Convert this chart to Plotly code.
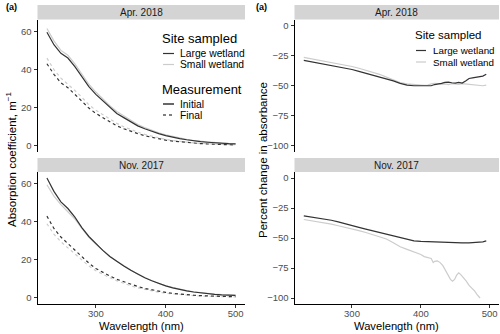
import plotly.graph_objects as go

W, H = 500, 334

DARK = "#333333"
LIGHT = "#CCCCCC"
STRIP = "#D4D4D4"
TICK_TXT = "#4D4D4D"
FONT = "Liberation Sans"

# ---- absorption coefficient (left panels) ----
wl_abs = [230, 240, 250, 260, 270, 280, 290, 300, 310, 320, 330, 340, 350, 360,
          370, 380, 390, 400, 410, 420, 430, 440, 450, 460, 470, 480, 490, 500]

apr_large_init = [59.5, 53, 48.5, 46, 41.5, 36, 31, 27, 23.5, 20, 17, 14.8, 12.5, 10.5,
                  9, 7.6, 6.4, 5.4, 4.5, 3.8, 3.2, 2.6, 2.2, 1.9, 1.6, 1.4, 1.2, 1.1]
apr_small_init = [61.5, 55, 50, 47.5, 43, 37.5, 32.3, 28.2, 24.5, 21, 18, 15.6, 13.2, 11.2,
                  9.6, 8.1, 6.9, 5.8, 4.9, 4.1, 3.4, 2.8, 2.4, 2.0, 1.7, 1.5, 1.3, 1.2]
apr_large_final = [43, 37.5, 33, 30.5, 27, 23.5, 19.8, 17, 14.7, 12.5, 10.5, 9, 7.6, 6.4,
                   5.3, 4.4, 3.6, 3.0, 2.5, 2.1, 1.7, 1.4, 1.2, 1.0, 0.85, 0.7, 0.6, 0.5]
apr_small_final = [46, 40, 35.5, 32.5, 29, 25.5, 21.5, 18.7, 16.3, 14, 11.8, 10, 8.5, 7.2,
                   6.0, 5.0, 4.1, 3.4, 2.8, 2.3, 1.9, 1.6, 1.3, 1.1, 0.95, 0.8, 0.7, 0.6]

nov_large_init = [63, 56, 50.5, 47, 42.5, 37, 32.3, 28.5, 25, 21.8, 19.2, 16.8, 14.5, 12.4,
                  10.6, 9.0, 7.5, 6.3, 5.3, 4.4, 3.7, 3.1, 2.6, 2.2, 1.9, 1.6, 1.4, 1.3]
nov_small_init = [59.5, 53.5, 49, 45.5, 41.5, 36.5, 32, 28.3, 24.9, 21.9, 19.3, 16.9, 14.6, 12.5,
                  10.7, 9.1, 7.6, 6.4, 5.4, 4.5, 3.8, 3.2, 2.7, 2.3, 2.0, 1.7, 1.5, 1.4]
nov_large_final = [43, 36.5, 32, 28.5, 25, 21.5, 18.3, 15.5, 13.3, 11.5, 9.8, 8.4, 7.2, 6.0,
                   5.0, 4.2, 3.5, 2.9, 2.4, 2.0, 1.7, 1.4, 1.2, 1.0, 0.9, 0.8, 0.7, 0.6]
nov_small_final = [39, 33.5, 29.5, 26.2, 23, 19.8, 16.8, 14.3, 12.3, 10.6, 9.0, 7.6, 6.4, 5.3,
                   4.4, 3.6, 3.0, 2.5, 2.1, 1.7, 1.4, 1.2, 1.0, 0.85, 0.75, 0.65, 0.55, 0.5]

# ---- percent change in absorbance (right panels) ----
wl_pct_apr = [230, 240, 250, 260, 270, 280, 290, 300, 310, 320, 330, 340, 350, 360, 370, 380, 390,
              400, 405, 410, 415, 420, 425, 430, 435, 440, 445, 450, 455, 460, 465, 470, 475,
              480, 485, 490, 495]
pct_apr_large = [-29, -30, -31, -32, -33, -34, -35, -36.5, -38, -39.5, -41, -42.5, -44, -46, -48,
                 -49.5, -50,
                 -50, -50.2, -50.3, -50, -49, -48.8, -48, -47.2, -47, -47.5, -47.8, -47.2, -47.8,
                 -46, -44, -43.5, -43, -42.5, -42, -40.5]
pct_apr_small = [-26.5, -27.5, -28.5, -29.5, -30.5, -31.5, -32.5, -34, -35.5, -37, -38.5, -40.5,
                 -42.8, -45, -47.3, -48.5, -49.2,
                 -49.4, -49.6, -49.5, -48.5, -48, -48.3, -48.8, -48.5, -49, -48.2, -48.5, -48.8,
                 -48.3, -48.6, -49.2, -49.5, -49.8, -49.5, -50, -49.5]

wl_pct_nov_large = [230, 240, 250, 260, 270, 280, 290, 300, 310, 320, 330, 340, 350, 360, 370,
                    380, 390, 400, 410, 420, 430, 440, 450, 460, 470, 480, 490, 495]
pct_nov_large = [-31.5, -32.3, -33.2, -34, -35.2, -36.6, -38.3, -39.8, -41.2, -42.6, -44, -45.4,
                 -46.8, -48.5, -50.2, -51.6, -52.4, -52.8, -53.1, -53.3, -53.5, -53.7, -53.9,
                 -54.1, -54.1, -53.8, -53.2, -52.4]
wl_pct_nov_small = [230, 240, 250, 260, 270, 280, 290, 300, 310, 320, 330, 340, 350, 360, 370,
                    380, 390, 400, 405, 410, 415, 418, 420, 424, 428, 432, 436, 440, 443, 446,
                    449, 452, 455, 458, 462, 466, 470, 474, 478, 482, 486]
pct_nov_small = [-34.6, -35.5, -36.4, -37.4, -38.5, -39.8, -41, -42.4, -43.9, -45.4, -47, -48.8,
                 -50.8, -54, -57.3, -59.5, -61.4, -63.8, -65.5, -66.5, -67, -70.5, -69.5, -69,
                 -70.5, -73, -77.5, -81, -84.5, -86, -84.5, -81, -79, -80.5, -83, -86, -89.5,
                 -91.5, -94, -97.5, -100]

ABS_TICKS = [0, 20, 40, 60]
PCT_TICKS = [0, -25, -50, -75, -100]
WL_TICKS = [300, 400, 500]


def px_x(p):
    return p / W


def px_y(p):
    return 1 - p / H


# panel boxes in pixels: (x0, x1) and (y_top, y_bottom)
LEFT_X = (37.5, 245)
RIGHT_X = (294.5, 499)
TOP_Y = (19.5, 152)
BOT_Y = (172, 304)

fig = go.Figure()


def line(x, y, color, dash, xa, ya):
    fig.add_trace(go.Scatter(
        x=x, y=y, mode="lines", xaxis=xa, yaxis=ya,
        line=dict(color=color, width=1.2, dash=dash),
        showlegend=False, hoverinfo="skip",
    ))


# left panels: Apr (top) and Nov (bottom)
line(wl_abs, apr_small_init, LIGHT, "solid", "x", "y")
line(wl_abs, apr_small_final, LIGHT, "dot", "x", "y")
line(wl_abs, apr_large_init, DARK, "solid", "x", "y")
line(wl_abs, apr_large_final, DARK, "dot", "x", "y")
line(wl_abs, nov_small_init, LIGHT, "solid", "x3", "y3")
line(wl_abs, nov_small_final, LIGHT, "dot", "x3", "y3")
line(wl_abs, nov_large_init, DARK, "solid", "x3", "y3")
line(wl_abs, nov_large_final, DARK, "dot", "x3", "y3")

# right panels
line(wl_pct_apr, pct_apr_small, LIGHT, "solid", "x2", "y2")
line(wl_pct_apr, pct_apr_large, DARK, "solid", "x2", "y2")
line(wl_pct_nov_small, pct_nov_small, LIGHT, "solid", "x4", "y4")
line(wl_pct_nov_large, pct_nov_large, DARK, "solid", "x4", "y4")

x_common = dict(range=[216.5, 513.5], tickvals=WL_TICKS, showgrid=False, zeroline=False,
                tickfont=dict(size=9.5, color=TICK_TXT))
y_common = dict(showgrid=False, zeroline=False, showline=True, linecolor="black", linewidth=1,
                ticks="outside", ticklen=3, tickcolor=DARK,
                tickfont=dict(size=9.5, color=TICK_TXT))
x_top = dict(x_common, showline=False, showticklabels=False, ticks="")
x_bot = dict(x_common, showline=True, linecolor="black", linewidth=1,
             ticks="outside", ticklen=3, tickcolor=DARK, ticklabelstandoff=-2)

abs_y = dict(y_common, range=[-3.2, 66.2], tickvals=ABS_TICKS)
pct_y = dict(y_common, range=[-105, 5], tickvals=PCT_TICKS)

fig.update_layout(
    width=W, height=H,
    margin=dict(l=0, r=0, t=0, b=0),
    paper_bgcolor="white", plot_bgcolor="white",
    font=dict(family=FONT, color="black"),
    showlegend=False,
    xaxis=dict(x_top, domain=[px_x(LEFT_X[0]), px_x(LEFT_X[1])], anchor="y"),
    yaxis=dict(abs_y, domain=[px_y(TOP_Y[1]), px_y(TOP_Y[0])], anchor="x"),
    xaxis2=dict(x_top, domain=[px_x(RIGHT_X[0]), px_x(RIGHT_X[1])], anchor="y2"),
    yaxis2=dict(pct_y, domain=[px_y(TOP_Y[1]), px_y(TOP_Y[0])], anchor="x2"),
    xaxis3=dict(x_bot, domain=[px_x(LEFT_X[0]), px_x(LEFT_X[1])], anchor="y3"),
    yaxis3=dict(abs_y, domain=[px_y(BOT_Y[1]), px_y(BOT_Y[0])], anchor="x3"),
    xaxis4=dict(x_bot, domain=[px_x(RIGHT_X[0]), px_x(RIGHT_X[1])], anchor="y4"),
    yaxis4=dict(pct_y, domain=[px_y(BOT_Y[1]), px_y(BOT_Y[0])], anchor="x4"),
)

shapes = []
annotations = []


def strip(x0, x1, y0, y1, label):
    shapes.append(dict(type="rect", xref="paper", yref="paper",
                       x0=px_x(x0), x1=px_x(x1), y0=px_y(y1), y1=px_y(y0),
                       fillcolor=STRIP, line_width=0, layer="below"))
    annotations.append(dict(x=px_x((x0 + x1) / 2), y=px_y((y0 + y1) / 2),
                            xref="paper", yref="paper", text=label, showarrow=False,
                            font=dict(size=10, color="#1A1A1A"),
                            xanchor="center", yanchor="middle"))


strip(LEFT_X[0], LEFT_X[1], 5, TOP_Y[0], "Apr. 2018")
strip(RIGHT_X[0], RIGHT_X[1], 5, TOP_Y[0], "Apr. 2018")
strip(LEFT_X[0], LEFT_X[1], 158, BOT_Y[0], "Nov. 2017")
strip(RIGHT_X[0], RIGHT_X[1], 158, BOT_Y[0], "Nov. 2017")


def text(xp, yp, s, size, xanchor="left", angle=0, color="black"):
    annotations.append(dict(x=px_x(xp), y=px_y(yp), xref="paper", yref="paper", text=s,
                            showarrow=False, textangle=angle, xanchor=xanchor,
                            yanchor="middle", borderpad=0, font=dict(size=size, color=color)))


def key(x0, x1, yp, color, dash="solid"):
    shapes.append(dict(type="line", xref="paper", yref="paper",
                       x0=px_x(x0), x1=px_x(x1), y0=px_y(yp), y1=px_y(yp),
                       line=dict(color=color, width=1.2, dash=dash)))


# panel tags
text(5, 7, "<b>(a)</b>", 9)
text(255, 7, "<b>(a)</b>", 9)

# axis titles
text(11, 160, "Absorption coefficient, m<sup>−1</sup>", 11.5, "center", -90)
text(263, 160, "Percent change in absorbance", 11.5, "center", -90)
text((LEFT_X[0] + LEFT_X[1]) / 2, 325.5, "Wavelength (nm)", 11.2, "center")
text((RIGHT_X[0] + RIGHT_X[1]) / 2, 325.5, "Wavelength (nm)", 11.2, "center")

# legend, left panel
text(161, 39, "Site sampled", 13)
key(163, 174, 53.5, DARK)
text(179, 53.5, "Large wetland", 10.3)
key(163, 174, 64.5, LIGHT)
text(179, 64.5, "Small wetland", 10.3)
text(161, 89, "Measurement", 13)
key(163, 174, 104, "black")
text(179, 104, "Initial", 10.3)
key(163, 174, 115, "black", "dot")
text(179, 115, "Final", 10.3)

# legend, right panel
text(414, 35, "Site sampled", 11.5)
key(416, 426, 50.5, DARK)
text(432, 50.5, "Large wetland", 9.8)
key(416, 426, 62, LIGHT)
text(432, 62, "Small wetland", 9.8)

fig.update_layout(shapes=shapes, annotations=annotations)

# the page body has a default 8px margin; drop it so the 500x334 figure fills the window
fig.write_html("out.html", config={"displayModeBar": False},
               post_script="document.body.style.margin='0';")
